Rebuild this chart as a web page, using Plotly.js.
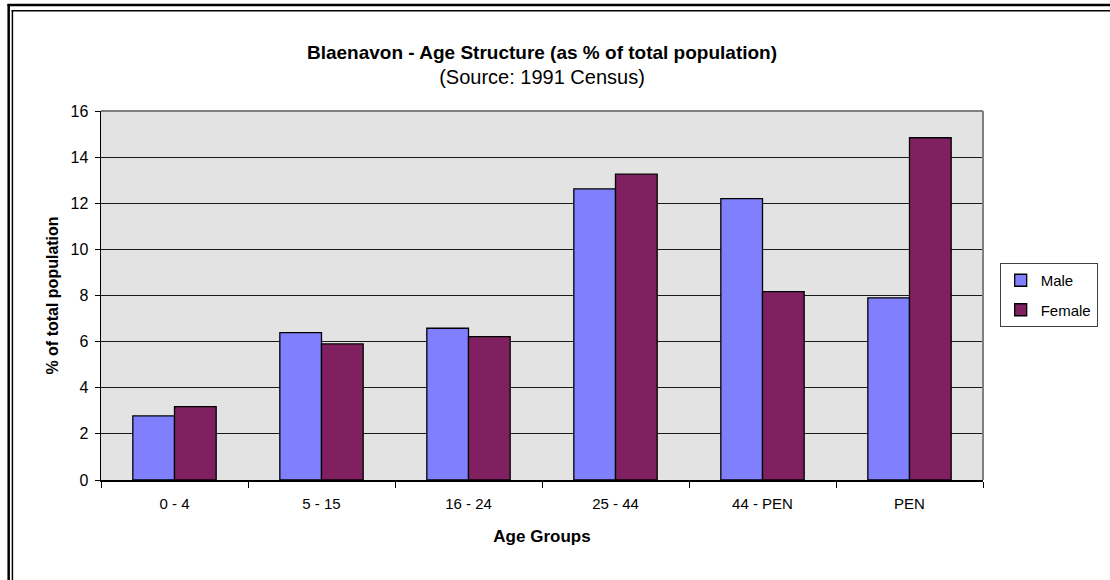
<!DOCTYPE html>
<html>
<head>
<meta charset="utf-8">
<script src="https://cdn.plot.ly/plotly-3.0.1.min.js"></script>
<style>
html,body{margin:0;padding:0;background:#fff;}
#chart{width:1110px;height:580px;}
</style>
</head>
<body>
<div id="chart"></div>
<script>
var categories = ["0 - 4", "5 - 15", "16 - 24", "25 - 44", "44 - PEN", "PEN"];
var maleValues = [2.78, 6.39, 6.58, 12.62, 12.2, 7.9];
var femaleValues = [3.18, 5.9, 6.22, 13.26, 8.17, 14.84];
var yTicks = [0, 2, 4, 6, 8, 10, 12, 14, 16];

var W = 1110, H = 580;
var L = 101, R = 111, T = 111, B = 100;
var pw = W - L - R, ph = H - T - B;
function px(x){ return (x - L) / pw; }
function py(y){ return (H - B - y) / ph; }

var font = "Liberation Sans, Arial, sans-serif";

var traces = [
  {type: "bar", name: "Male", x: categories, y: maleValues, legendgroup: "m",
   marker: {color: "#8080ff", line: {color: "#000", width: 1.3}}},
  {type: "bar", name: "Female", x: categories, y: femaleValues, legendgroup: "f",
   marker: {color: "#802060", line: {color: "#000", width: 1.3}}}
];

var shapes = [
  // chart frame (double line, left and top)
  {type: "line", xref: "paper", yref: "paper", x0: px(7), x1: px(7), y0: py(4), y1: py(600), line: {color: "#000", width: 2.5}},
  {type: "line", xref: "paper", yref: "paper", x0: px(5.8), x1: px(1200), y0: py(5), y1: py(5), line: {color: "#000", width: 2.5}},
  {type: "line", xref: "paper", yref: "paper", x0: px(10.8), x1: px(10.8), y0: py(10), y1: py(600), line: {color: "#000", width: 1.5}},
  {type: "line", xref: "paper", yref: "paper", x0: px(10), x1: px(1200), y0: py(10.8), y1: py(10.8), line: {color: "#000", width: 1.5}},
  // plot area top/right gray border
  {type: "line", xref: "paper", yref: "paper", x0: 0, x1: 1, y0: 1, y1: 1, line: {color: "#808080", width: 2}},
  {type: "line", xref: "paper", yref: "paper", x0: 1, x1: 1, y0: 0, y1: 1, line: {color: "#808080", width: 2}}
];

var layout = {
  width: W, height: H,
  margin: {l: L, r: R, t: T, b: B, pad: 0},
  paper_bgcolor: "#fff",
  plot_bgcolor: "#e3e3e3",
  font: {family: font, color: "#000", size: 15},
  title: {
    text: "<b>Blaenavon - Age Structure (as % of total population)</b><br><span style='font-size:20px'>(Source: 1991 Census)</span>",
    font: {family: font, size: 19, color: "#000"},
    x: 0.5, xref: "paper", xanchor: "center",
    y: 1 - 59 / H, yref: "container", yanchor: "middle"
  },
  barmode: "group",
  bargap: 0.433,
  bargroupgap: 0,
  showlegend: true,
  legend: {
    x: px(1016), y: py(263), xanchor: "left", yanchor: "top",
    bgcolor: "#fff", bordercolor: "#404040", borderwidth: 1,
    font: {family: font, size: 15, color: "#000"},
    traceorder: "grouped", tracegroupgap: 7,
    itemwidth: 30
  },
  xaxis: {
    type: "category",
    tickson: "boundaries",
    ticks: "outside", ticklen: 6, tickcolor: "#000", tickwidth: 1,
    showline: true, linecolor: "#000", linewidth: 1.5,
    showgrid: false, zeroline: false,
    tickfont: {family: font, size: 15, color: "#000"},
    ticklabelstandoff: 9,
    title: {text: "<b>Age Groups</b>", font: {family: font, size: 17, color: "#000"}, standoff: 19},
    automargin: false
  },
  yaxis: {
    range: [0, 16], tickvals: yTicks, ticktext: yTicks.map(String),
    ticks: "outside", ticklen: 5, tickcolor: "#000", tickwidth: 1,
    showline: true, linecolor: "#000", linewidth: 1.5,
    showgrid: true, gridcolor: "#1a1a1a", gridwidth: 1,
    zeroline: false,
    tickfont: {family: font, size: 16, color: "#000"},
    ticklabelstandoff: 3,
    title: {text: "<b>% of total population</b>", font: {family: font, size: 16, color: "#000"}, standoff: 8},
    automargin: false
  },
  shapes: shapes
};

Plotly.newPlot("chart", traces, layout, {displayModeBar: false, staticPlot: true});
</script>
</body>
</html>
